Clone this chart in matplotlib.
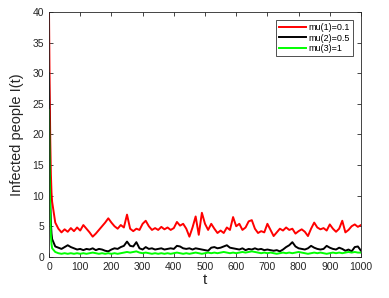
import numpy as np
import matplotlib
matplotlib.use('Agg')
import matplotlib.pyplot as plt

plt.rcParams['font.family'] = ['Liberation Sans', 'DejaVu Sans']

# time grid: dense start, then every 10 units
t = np.concatenate([[0, 2, 4, 6, 8], np.arange(10, 1001, 10)])

red_early = [40, 28, 19, 13.5, 10.5]
red_rest = [9.0, 5.6, 4.6, 4.0, 4.5, 4.1, 4.7, 4.2, 4.8, 4.3,
            5.2, 4.6, 4.0, 3.3, 3.8, 4.4, 5.0, 5.6, 6.3, 5.6,
            5.0, 4.6, 5.2, 4.8, 6.9, 4.6, 4.2, 4.6, 4.4, 5.4,
            5.9, 5.0, 4.4, 4.7, 4.4, 4.9, 4.5, 4.8, 4.4, 4.7,
            5.7, 5.1, 5.4, 4.6, 3.3, 4.8, 6.6, 3.6, 7.2, 5.4,
            4.4, 5.4, 4.6, 3.9, 4.3, 3.9, 4.8, 4.4, 6.5, 5.0,
            5.4, 4.4, 4.8, 5.8, 6.0, 4.6, 3.9, 4.2, 4.0, 5.4,
            4.4, 3.4, 4.0, 4.6, 4.3, 4.8, 4.4, 4.6, 3.8, 4.2,
            4.5, 4.1, 3.4, 4.6, 5.6, 4.8, 4.5, 4.7, 4.3, 5.3,
            4.6, 4.1, 4.6, 5.9, 4.0, 4.4, 5.0, 5.3, 4.9, 5.2]

black_early = [30, 17, 9, 5.5, 3.8]
black_rest = [2.9, 1.7, 1.5, 1.3, 1.6, 1.9, 1.6, 1.4, 1.2, 1.3,
              1.1, 1.3, 1.2, 1.4, 1.1, 1.3, 1.2, 1.0, 0.9, 1.2,
              1.4, 1.3, 1.6, 1.8, 2.5, 1.8, 1.7, 2.4, 1.4, 1.2,
              1.6, 1.3, 1.4, 1.2, 1.3, 1.4, 1.2, 1.3, 1.4, 1.3,
              1.8, 1.7, 1.4, 1.3, 1.4, 1.2, 1.4, 1.3, 1.2, 1.1,
              1.0, 1.5, 1.6, 1.4, 1.5, 1.7, 1.9, 1.5, 1.4, 1.3,
              1.2, 1.4, 1.1, 1.3, 1.2, 1.4, 1.2, 1.3, 1.1, 1.2,
              1.1, 1.0, 1.1, 0.9, 1.2, 1.6, 1.9, 2.4, 1.7, 1.4,
              1.3, 1.2, 1.4, 1.8, 1.5, 1.3, 1.2, 1.3, 1.8, 1.5,
              1.3, 1.2, 1.5, 1.3, 1.0, 1.2, 0.9, 1.6, 1.7, 1.0]

green_early = [24, 13, 6.5, 3.5, 2.1]
green_rest = [1.4, 0.8, 0.6, 0.5, 0.6, 0.5, 0.6, 0.5, 0.6, 0.5,
              0.6, 0.5, 0.6, 0.7, 0.6, 0.5, 0.6, 0.5, 0.6, 0.5,
              0.6, 0.5, 0.6, 0.7, 0.8, 0.7, 0.8, 0.9, 0.7, 0.6,
              0.7, 0.6, 0.5, 0.6, 0.5, 0.6, 0.5, 0.6, 0.5, 0.6,
              0.7, 0.6, 0.5, 0.6, 0.5, 0.6, 0.7, 0.6, 0.5, 0.6,
              0.7, 0.6, 0.7, 0.6, 0.7, 0.8, 0.7, 0.6, 0.7, 0.6,
              0.7, 0.8, 0.7, 0.8, 0.9, 0.8, 0.7, 0.6, 0.7, 0.6,
              0.7, 0.6, 0.5, 0.6, 0.7, 0.6, 0.7, 0.6, 0.7, 0.8,
              0.7, 0.6, 0.5, 0.6, 0.7, 0.6, 0.7, 0.6, 0.5, 0.6,
              0.7, 0.6, 0.7, 0.6, 0.7, 0.8, 0.7, 0.8, 0.7, 0.7]

red = red_early + red_rest
black = black_early + black_rest
green = green_early + green_rest

labels = ['mu(1)=0.1', 'mu(2)=0.5', 'mu(3)=1']

fig = plt.figure(figsize=(3.89, 2.98), dpi=100)
ax = fig.add_axes([0.126, 0.138, 0.802, 0.822])

ax.plot(t, red, color='#ff0000', lw=1.4, label=labels[0])
ax.plot(t, black, color='black', lw=1.4, label=labels[1])
ax.plot(t, green, color='#00ff00', lw=1.4, label=labels[2])

ax.set_xlim(0, 1000)
ax.set_ylim(0, 40)
ax.set_xticks(np.arange(0, 1001, 100))
ax.set_yticks(np.arange(0, 41, 5))
ax.tick_params(direction='in', top=True, right=True, labelsize=7.5,
               length=3, width=0.6, colors='#262626')
for s in ax.spines.values():
    s.set_linewidth(0.6)
    s.set_color('#262626')

ax.set_xlabel('t', fontsize=11, color='#262626', labelpad=1)
ax.set_ylabel('Infected people I(t)', fontsize=10.5, color='#262626', labelpad=6)

leg = ax.legend(loc='upper right', fontsize=6.5, frameon=True, fancybox=False,
                edgecolor='black', borderpad=0.3, labelspacing=0.2,
                handlelength=3.0, handletextpad=0.3, borderaxespad=0.9)
leg.get_frame().set_linewidth(0.6)

fig.savefig('out.png', dpi=100)
